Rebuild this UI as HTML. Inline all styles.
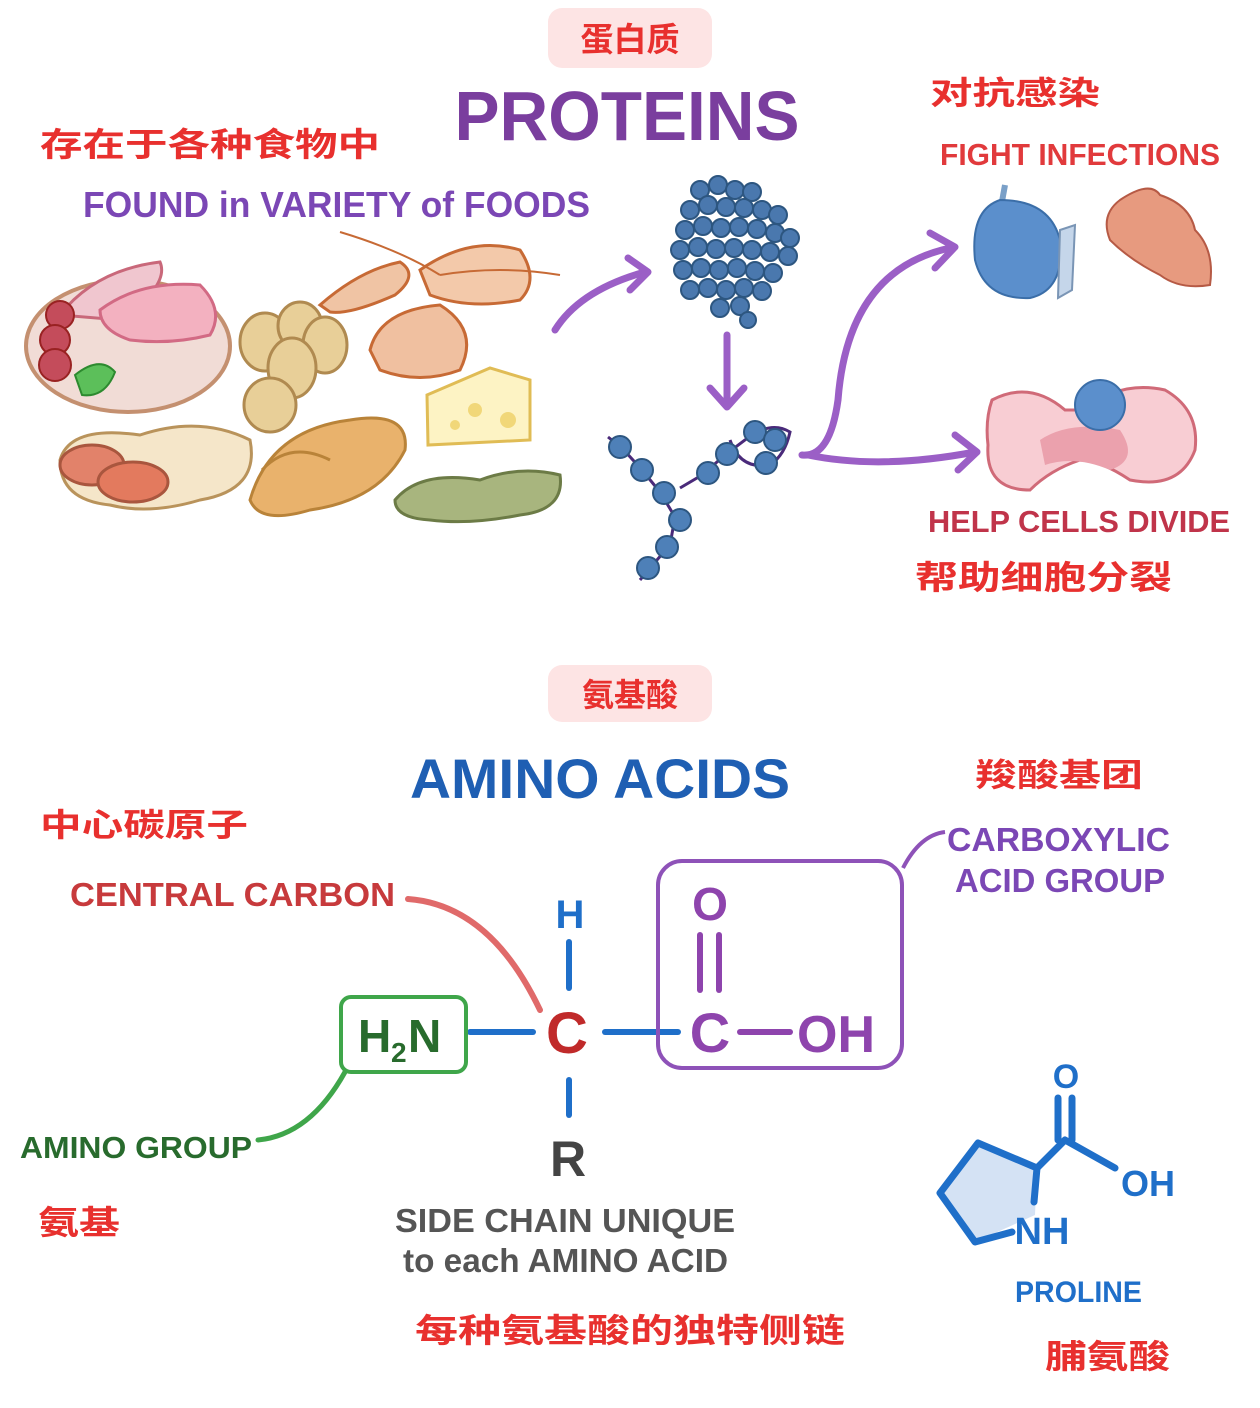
<!DOCTYPE html>
<html><head><meta charset="utf-8"><style>
html,body{margin:0;padding:0;background:#fff;}
svg{display:block;}
text{font-family:"Liberation Sans","Noto Sans CJK SC",sans-serif;font-weight:bold;}
</style></head><body>
<svg width="1260" height="1408" viewBox="0 0 1260 1408" xmlns="http://www.w3.org/2000/svg">
<!-- Title boxes -->
<rect x="548" y="8" width="164" height="60" rx="14" fill="#fde4e4"/>
<text x="630" y="51" font-size="33" fill="#e8302e" text-anchor="middle">蛋白质</text>
<text x="627" y="140" font-size="70" fill="#7a3e9e" text-anchor="middle" textLength="345" lengthAdjust="spacingAndGlyphs">PROTEINS</text>
<text x="40" y="156" font-size="33" fill="#e8302e" textLength="340" lengthAdjust="spacingAndGlyphs">存在于各种食物中</text>
<text x="83" y="217" font-size="36" fill="#7b47b5" font-weight="normal" textLength="507" lengthAdjust="spacingAndGlyphs">FOUND in VARIETY of FOODS</text>

<!-- Foods -->
<ellipse cx="128" cy="346" rx="102" ry="66" fill="#f1dcd6" stroke="#c49070" stroke-width="4"/>
<path d="M60,315 Q95,270 160,262 Q170,285 120,320 Z" fill="#f0c6cf" stroke="#c9687a" stroke-width="3"/>
<path d="M100,310 Q140,280 200,285 Q225,310 210,335 Q170,345 130,340 Q100,330 100,310Z" fill="#f3b1c0" stroke="#d26a84" stroke-width="3"/>
<circle cx="60" cy="315" r="14" fill="#c44c5b" stroke="#922" stroke-width="2"/>
<circle cx="55" cy="340" r="15" fill="#c44c5b" stroke="#922" stroke-width="2"/>
<circle cx="55" cy="365" r="16" fill="#c44c5b" stroke="#922" stroke-width="2"/>
<path d="M75,375 Q100,355 115,372 Q105,398 82,395Z" fill="#5cbf5a" stroke="#2d8a2f" stroke-width="2"/>
<g fill="#e8cf98" stroke="#b08a50" stroke-width="3">
<ellipse cx="265" cy="342" rx="25" ry="29"/><ellipse cx="300" cy="326" rx="22" ry="24"/><ellipse cx="325" cy="345" rx="22" ry="28"/>
<ellipse cx="292" cy="368" rx="24" ry="30"/><ellipse cx="270" cy="405" rx="26" ry="27"/></g>
<path d="M320,305 Q360,270 400,262 Q420,275 395,295 Q350,315 330,312Z" fill="#f0c4a4" stroke="#c76a35" stroke-width="3"/>
<path d="M420,270 Q470,235 520,250 Q540,280 520,300 Q470,310 430,295Z" fill="#f3c9aa" stroke="#c76a35" stroke-width="3"/>
<path d="M370,350 Q380,310 440,305 Q480,330 460,370 Q420,385 380,370Z" fill="#f0c0a0" stroke="#c76a35" stroke-width="3"/>
<path d="M340,232 Q400,250 440,275 M440,275 Q500,265 560,275" fill="none" stroke="#c76a35" stroke-width="2"/>
<path d="M427,395 L490,368 L530,380 L530,440 L428,445Z" fill="#fdf3c4" stroke="#e0bc55" stroke-width="3"/>
<circle cx="475" cy="410" r="7" fill="#f1d779"/><circle cx="508" cy="420" r="8" fill="#f1d779"/><circle cx="455" cy="425" r="5" fill="#f1d779"/>
<path d="M60,460 Q70,425 140,435 Q200,415 250,440 Q260,490 200,500 Q150,515 110,505 Q60,500 60,460Z" fill="#f5e6c9" stroke="#b9935b" stroke-width="3"/>
<ellipse cx="92" cy="465" rx="32" ry="20" fill="#e2826a" stroke="#a9563e" stroke-width="3"/>
<ellipse cx="133" cy="482" rx="35" ry="20" fill="#e37a5e" stroke="#a9563e" stroke-width="3"/>
<path d="M250,500 Q270,430 350,420 Q410,410 405,450 Q380,500 310,510 Q260,525 250,500Z" fill="#e9b26c" stroke="#b98339" stroke-width="3"/>
<path d="M262,470 Q290,440 330,460" fill="none" stroke="#b98339" stroke-width="3"/>
<path d="M395,500 Q420,470 480,480 Q520,465 560,475 Q565,510 520,515 Q470,525 430,520 Q395,518 395,500Z" fill="#a8b57e" stroke="#6c7b46" stroke-width="3"/>

<!-- arrows -->
<g fill="none" stroke="#9b5fc6" stroke-width="7" stroke-linecap="round" stroke-linejoin="round">
<path d="M555,330 Q580,290 645,272"/><path d="M628,258 L648,272 L630,290"/>
<path d="M727,335 L727,405"/><path d="M710,388 L727,407 L744,388"/>
<path d="M802,455 Q830,458 838,400 Q848,270 950,248"/><path d="M930,233 L955,247 L935,268"/>
<path d="M808,455 Q880,470 975,452"/><path d="M955,435 L977,452 L958,470"/>
</g>

<!-- protein blob -->
<g fill="#4a78ae" stroke="#2d5680" stroke-width="2">
<circle cx="700" cy="190" r="9"/><circle cx="718" cy="185" r="9"/><circle cx="735" cy="190" r="9"/><circle cx="752" cy="192" r="9"/>
<circle cx="690" cy="210" r="9"/><circle cx="708" cy="205" r="9"/><circle cx="726" cy="207" r="9"/><circle cx="744" cy="208" r="9"/><circle cx="762" cy="210" r="9"/><circle cx="778" cy="215" r="9"/>
<circle cx="685" cy="230" r="9"/><circle cx="703" cy="226" r="9"/><circle cx="721" cy="228" r="9"/><circle cx="739" cy="227" r="9"/><circle cx="757" cy="229" r="9"/><circle cx="775" cy="233" r="9"/><circle cx="790" cy="238" r="9"/>
<circle cx="680" cy="250" r="9"/><circle cx="698" cy="247" r="9"/><circle cx="716" cy="249" r="9"/><circle cx="734" cy="248" r="9"/><circle cx="752" cy="250" r="9"/><circle cx="770" cy="252" r="9"/><circle cx="788" cy="256" r="9"/>
<circle cx="683" cy="270" r="9"/><circle cx="701" cy="268" r="9"/><circle cx="719" cy="270" r="9"/><circle cx="737" cy="268" r="9"/><circle cx="755" cy="271" r="9"/><circle cx="773" cy="273" r="9"/>
<circle cx="690" cy="290" r="9"/><circle cx="708" cy="288" r="9"/><circle cx="726" cy="290" r="9"/><circle cx="744" cy="288" r="9"/><circle cx="762" cy="291" r="9"/>
<circle cx="720" cy="308" r="9"/><circle cx="740" cy="306" r="9"/><circle cx="748" cy="320" r="8"/>
</g>
<!-- chains -->
<path d="M608,437 L622,448 L642,470 L660,492 L675,517 L670,545 L650,568 L640,580" fill="none" stroke="#4a2a7a" stroke-width="3"/>
<path d="M680,488 L702,475 L725,455 L745,440 Q770,420 790,432 Q785,455 770,465 Q740,470 730,440" fill="none" stroke="#4a2a7a" stroke-width="3"/>
<g fill="#4e80b8" stroke="#2d5680" stroke-width="2">
<circle cx="620" cy="447" r="11"/><circle cx="642" cy="470" r="11"/><circle cx="664" cy="493" r="11"/><circle cx="680" cy="520" r="11"/><circle cx="667" cy="547" r="11"/><circle cx="648" cy="568" r="11"/>
<circle cx="708" cy="473" r="11"/><circle cx="727" cy="454" r="11"/><circle cx="755" cy="432" r="11"/><circle cx="775" cy="440" r="11"/><circle cx="766" cy="463" r="11"/>
</g>

<!-- right section -->
<text x="930" y="104" font-size="32" fill="#e8302e" textLength="170" lengthAdjust="spacingAndGlyphs">对抗感染</text>
<text x="940" y="165" font-size="31" fill="#e13a3c" font-weight="normal" textLength="280" lengthAdjust="spacingAndGlyphs">FIGHT INFECTIONS</text>
<path d="M1005,185 L995,240" stroke="#7aa0c8" stroke-width="6"/>
<path d="M1000,200 Q970,210 975,260 Q985,300 1030,298 Q1065,290 1060,240 Q1050,200 1000,200Z" fill="#5b8fcc" stroke="#3b6ea8" stroke-width="2"/>
<path d="M1060,230 L1075,225 L1072,290 L1058,298Z" fill="#c5d6ea" stroke="#7a95b5" stroke-width="2"/>
<path d="M1120,200 Q1150,180 1160,195 Q1190,205 1195,230 Q1215,250 1210,285 Q1180,290 1160,275 Q1130,260 1110,240 Q1100,215 1120,200Z" fill="#e79a7f" stroke="#b65a45" stroke-width="2"/>
<path d="M992,400 Q1030,380 1065,410 L1085,410 Q1120,380 1165,390 Q1200,410 1195,450 Q1180,490 1130,480 Q1100,460 1080,460 Q1050,470 1030,490 Q985,490 988,445 Q985,420 992,400Z" fill="#f8cdd3" stroke="#d06a78" stroke-width="3"/>
<path d="M1040,440 Q1070,420 1120,430 Q1140,460 1110,470 Q1075,455 1045,465Z" fill="#eba1ad"/>
<circle cx="1100" cy="405" r="25" fill="#5b8fcc" stroke="#3b6ea8" stroke-width="2"/>
<text x="928" y="532" font-size="31" fill="#c0344a" font-weight="normal" textLength="302" lengthAdjust="spacingAndGlyphs">HELP CELLS DIVIDE</text>
<text x="915" y="589" font-size="33" fill="#e8302e" textLength="257" lengthAdjust="spacingAndGlyphs">帮助细胞分裂</text>

<!-- amino acids -->
<rect x="548" y="665" width="164" height="57" rx="14" fill="#fde4e4"/>
<text x="630" y="706" font-size="32" fill="#e8302e" text-anchor="middle">氨基酸</text>
<text x="410" y="798" font-size="56" fill="#1f5fb3" textLength="380" lengthAdjust="spacingAndGlyphs">AMINO ACIDS</text>
<text x="975" y="786" font-size="32" fill="#e8302e" textLength="168" lengthAdjust="spacingAndGlyphs">羧酸基团</text>
<text x="40" y="836" font-size="32" fill="#e8302e" textLength="208" lengthAdjust="spacingAndGlyphs">中心碳原子</text>
<text x="947" y="851" font-size="33" fill="#7b47b5" font-weight="normal" textLength="223" lengthAdjust="spacingAndGlyphs">CARBOXYLIC</text>
<text x="955" y="892" font-size="33" fill="#7b47b5" font-weight="normal" textLength="210" lengthAdjust="spacingAndGlyphs">ACID GROUP</text>
<path d="M903,868 Q920,835 945,832" fill="none" stroke="#8e52b8" stroke-width="4"/>
<text x="70" y="906" font-size="33" fill="#c73a3c" font-weight="normal" textLength="325" lengthAdjust="spacingAndGlyphs">CENTRAL CARBON</text>
<path d="M408,899 Q490,905 540,1010" fill="none" stroke="#e06a6a" stroke-width="6" stroke-linecap="round"/>

<text x="570" y="928" font-size="40" fill="#1f6fc9" text-anchor="middle">H</text>
<g stroke="#1f6fc9" stroke-width="6" stroke-linecap="round">
<line x1="569" y1="942" x2="569" y2="988"/><line x1="569" y1="1080" x2="569" y2="1115"/>
<line x1="470" y1="1032" x2="533" y2="1032"/><line x1="605" y1="1032" x2="678" y2="1032"/>
</g>
<text x="567" y="1053" font-size="58" fill="#c02a2a" text-anchor="middle">C</text>
<text x="568" y="1176" font-size="50" fill="#444" text-anchor="middle" font-weight="normal">R</text>
<rect x="341" y="997" width="125" height="75" rx="10" fill="none" stroke="#3fa64a" stroke-width="4"/>
<text x="358" y="1052" font-size="46" fill="#286b2d">H</text><text x="391" y="1062" font-size="28" fill="#286b2d">2</text><text x="408" y="1052" font-size="46" fill="#286b2d">N</text>
<rect x="658" y="861" width="244" height="207" rx="24" fill="none" stroke="#8e52b8" stroke-width="4"/>
<text x="710" y="920" font-size="46" fill="#8e44ad" text-anchor="middle">O</text>
<g stroke="#8e44ad" stroke-width="6" stroke-linecap="round">
<line x1="700" y1="935" x2="700" y2="990"/><line x1="719" y1="935" x2="719" y2="990"/><line x1="740" y1="1032" x2="790" y2="1032"/></g>
<text x="710" y="1052" font-size="56" fill="#8e44ad" text-anchor="middle">C</text>
<text x="836" y="1052" font-size="52" fill="#8e44ad" text-anchor="middle">OH</text>
<path d="M345,1072 Q310,1135 258,1140" fill="none" stroke="#3fa64a" stroke-width="5" stroke-linecap="round"/>
<text x="20" y="1158" font-size="31" fill="#286b2d" font-weight="normal" textLength="232" lengthAdjust="spacingAndGlyphs">AMINO GROUP</text>
<text x="38" y="1234" font-size="33" fill="#e8302e" textLength="82" lengthAdjust="spacingAndGlyphs">氨基</text>
<text x="395" y="1232" font-size="33" fill="#555" font-weight="normal" textLength="340" lengthAdjust="spacingAndGlyphs">SIDE CHAIN UNIQUE</text>
<text x="403" y="1272" font-size="33" fill="#555" font-weight="normal" textLength="325" lengthAdjust="spacingAndGlyphs">to each AMINO ACID</text>
<text x="415" y="1342" font-size="33" fill="#e8302e" textLength="430" lengthAdjust="spacingAndGlyphs">每种氨基酸的独特侧链</text>

<!-- proline -->
<path d="M978,1143 L1037,1168 L1035,1215 L975,1242 L940,1193Z" fill="#d4e2f4"/>
<g fill="none" stroke="#1f6fc9" stroke-width="7" stroke-linecap="round" stroke-linejoin="round">
<path d="M1012,1232 L975,1242 L940,1193 L978,1143 L1037,1168 L1034,1202"/>
<path d="M1037,1168 L1065,1140 L1115,1168"/>
<line x1="1058" y1="1140" x2="1058" y2="1098"/><line x1="1072" y1="1140" x2="1072" y2="1098"/>
</g>
<text x="1066" y="1088" font-size="34" fill="#1f6fc9" text-anchor="middle">O</text>
<text x="1148" y="1196" font-size="36" fill="#1f6fc9" text-anchor="middle">OH</text>
<text x="1042" y="1244" font-size="38" fill="#1f6fc9" text-anchor="middle">NH</text>
<text x="1015" y="1302" font-size="30" fill="#1f6fc9" font-weight="normal" textLength="127" lengthAdjust="spacingAndGlyphs">PROLINE</text>
<text x="1045" y="1368" font-size="33" fill="#e8302e" textLength="125" lengthAdjust="spacingAndGlyphs">脯氨酸</text>
</svg>
</body></html>
